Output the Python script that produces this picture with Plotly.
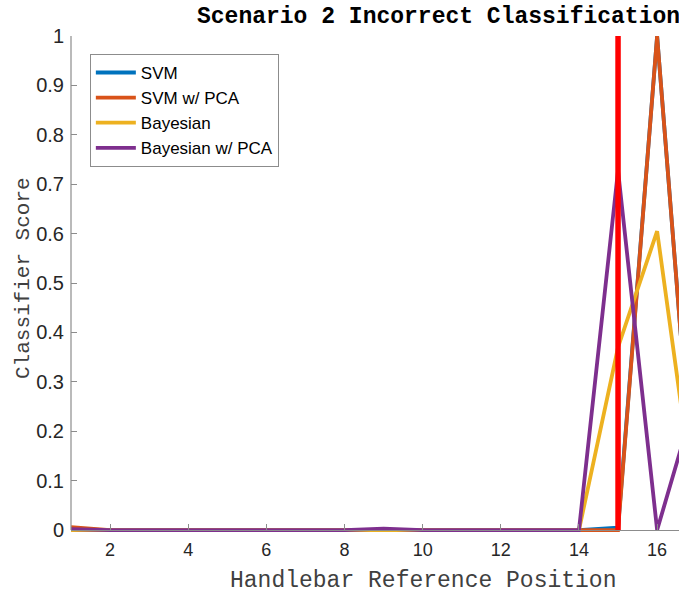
import plotly.graph_objects as go

# Handlebar reference positions and per-classifier scores
positions = list(range(1, 18))
svm = [0, 0, 0, 0, 0, 0, 0, 0, 0, 0, 0, 0, 0, 0, 0.005, 1.0, 0]
svm_pca = [0.006, 0, 0, 0, 0, 0, 0, 0, 0, 0, 0, 0, 0, 0, 0, 1.0, 0]
bayes = [0, 0, 0, 0, 0, 0, 0, 0, 0, 0, 0, 0, 0, 0, 0.37, 0.605, 0.03]
bayes_pca = [0.002, 0, 0, 0, 0.001, 0, 0, 0, 0.003, 0, 0, 0, 0, 0, 0.728, 0, 0.27]

series_names = ["SVM", "SVM w/ PCA", "Bayesian", "Bayesian w/ PCA"]
series_values = [svm, svm_pca, bayes, bayes_pca]
series_colors = ["#0072BD", "#D95319", "#EDB120", "#7E2F8E"]

# Actual handlebar position marked with a vertical line
true_position = 15
marker_span = [0, 1]

x_range = [1, 16.56]
y_range = [-0.01, 1.0]
x_ticks = [2, 4, 6, 8, 10, 12, 14, 16]
y_ticks = [0, 0.1, 0.2, 0.3, 0.4, 0.5, 0.6, 0.7, 0.8, 0.9, 1]

mono = "Liberation Mono, Courier New, monospace"
sans = "Liberation Sans, Arial, sans-serif"
axis_grey = "#8c8c8c"
text_grey = "#262626"

fig = go.Figure()
for name, vals, col in zip(series_names, series_values, series_colors):
    fig.add_trace(go.Scatter(
        x=positions, y=vals, mode="lines", name=name,
        line=dict(color=col, width=3.8),
    ))

fig.add_trace(go.Scatter(
    x=[true_position, true_position], y=marker_span, mode="lines",
    line=dict(color="#FF0000", width=5.5), showlegend=False,
))

zero_frac = (0 - y_range[0]) / (y_range[1] - y_range[0])

fig.update_layout(
    width=679, height=595,
    margin=dict(l=71, r=0, t=36, b=60),
    paper_bgcolor="white", plot_bgcolor="white",
    showlegend=True,
    legend=dict(
        x=0.031, y=0.964, xanchor="left", yanchor="top",
        bgcolor="white", bordercolor="#8c8c8c", borderwidth=1,
        font=dict(family=sans, size=17, color="#000000"),
        tracegroupgap=0, itemwidth=40,
    ),
    xaxis=dict(
        range=x_range, tickvals=x_ticks, ticktext=[str(t) for t in x_ticks],
        showgrid=False, zeroline=False,
        showline=True, linecolor=axis_grey, linewidth=1.2,
        ticks="inside", ticklen=6, tickcolor=axis_grey,
        tickfont=dict(family=sans, size=18, color=text_grey),
        ticklabelstandoff=3,
        anchor="free", position=zero_frac,
    ),
    yaxis=dict(
        range=y_range, tickvals=y_ticks,
        ticktext=["0", "0.1", "0.2", "0.3", "0.4", "0.5", "0.6", "0.7", "0.8", "0.9", "1"],
        showgrid=False, zeroline=False, showline=False,
        ticks="inside", ticklen=6, tickcolor=axis_grey,
        tickfont=dict(family=sans, size=20, color=text_grey),
        ticklabelstandoff=6,
    ),
    shapes=[dict(
        type="line", xref="paper", yref="y", x0=0, x1=0, y0=0, y1=1,
        line=dict(color=axis_grey, width=1.2), layer="above",
    )],
    annotations=[
        dict(text="<b>Scenario 2 Incorrect Classification</b>",
             xref="paper", yref="paper", x=(195 - 71) / 608, y=1.0,
             xanchor="left", yanchor="bottom", yshift=4, showarrow=False,
             font=dict(family=mono, size=23, color="#000000")),
        dict(text="Handlebar Reference Position",
             xref="paper", yref="paper", x=(423 - 71) / 608, y=0,
             xanchor="center", yanchor="middle", yshift=-46, showarrow=False,
             font=dict(family=mono, size=23, color="#404040")),
        dict(text="Classifier Score", textangle=-90,
             xref="paper", yref="paper", x=0, y=(535 - 278) / 499,
             xanchor="center", yanchor="middle", xshift=-48, showarrow=False,
             font=dict(family=mono, size=21, color="#404040")),
    ],
)

fig.write_html("out.html")
